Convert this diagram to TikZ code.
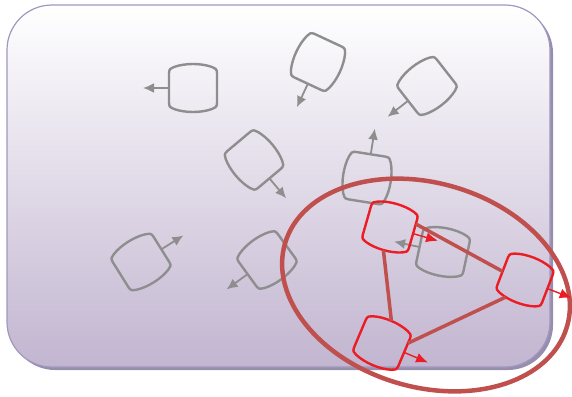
\documentclass[tikz,border=0pt]{standalone}
\usetikzlibrary{arrows.meta}

\definecolor{cellgray}{RGB}{142,142,142}
\definecolor{cellred}{RGB}{236,28,36}
\definecolor{ringred}{RGB}{192,80,77}
\definecolor{boxmid}{RGB}{229,223,234}
\definecolor{boxbot}{RGB}{194,181,208}
\definecolor{boxline}{RGB}{160,152,190}
\definecolor{boxshadow}{RGB}{150,142,172}

\tikzset{
  barrel/.pic={
    \path[#1] (-24,-15) -- (-24,15)
      .. controls (-24,19) and (-22,20) .. (-19,21)
      .. controls (-8,25) and (8,25) .. (19,21)
      .. controls (22,20) and (24,19) .. (24,15) -- (24,-15)
      .. controls (24,-19) and (22,-20) .. (19,-21)
      .. controls (8,-25) and (-8,-25) .. (-19,-21)
      .. controls (-22,-20) and (-24,-19) .. (-24,-15) -- cycle;
    \coordinate (-c) at (0,0);
    \coordinate (-w) at (-24,0);
    \coordinate (-e) at (24,0);
    \coordinate (-n) at (0,-24);
    \coordinate (-s) at (0,24);
    \coordinate (-ws) at (-24,10);
    \coordinate (-ne) at (12,-23);
    \coordinate (-t) at (-50,0);
  }
}

\begin{document}
\begin{tikzpicture}[x=1pt,y=-1pt,
  grayedge/.style={draw=cellgray,line width=2.4pt},
  rededge/.style={draw=cellred,line width=2.4pt},
  grayarrow/.style={cellgray,line width=1.8pt,-{Latex[length=11pt,width=10pt]}},
  redarrow/.style={cellred,line width=1.4pt,-{Latex[length=12pt,width=10pt]}},
  link/.style={ringred,line width=3.5pt},
  ring/.style={ringred,line width=4.5pt}]
\useasboundingbox (0,0) rectangle (572,396);

% Background panel
\fill[boxshadow,rounded corners=45pt] (10,8) rectangle (553,370);
\shade[top color=white,middle color=boxmid,bottom color=boxbot,rounded corners=45pt]
  (7,5) rectangle (550,367);
\draw[boxline,line width=1.2pt,rounded corners=45pt] (7,5) rectangle (550,367);

% Gray cells
\pic (g1) at (193,88) {barrel=grayedge};
\pic[rotate=65] (g2) at (318,62) {barrel=grayedge};
\pic[rotate=38] (g3) at (427,86) {barrel=grayedge};
\pic[rotate=130] (g4) at (254,160) {barrel=grayedge};
\pic[rotate=-99] (g5) at (367,178) {barrel=grayedge};
\pic[rotate=212] (g6) at (141,262) {barrel=grayedge};
\pic[rotate=36] (g7) at (267,260) {barrel=grayedge};
\pic[rotate=-12] (g8) at (443,252) {barrel=grayedge};

\foreach \g in {g1,g2,g3,g4,g5,g6,g7,g8}
  \draw[grayarrow] (\g-w) -- (\g-t);

% Cluster ring
\draw[ring,rotate around={-16.5:(426,285)}] (426,285) ellipse [x radius=147, y radius=102];

% Red cells and links
\pic[rotate=164] (r1) at (390,227) {barrel=rededge};
\pic[rotate=159] (r2) at (525,280) {barrel=rededge};
\pic[rotate=157] (r3) at (382,343) {barrel=rededge};

\draw[link] (r1-ws) -- (r2-e);
\draw[link] (r1-n) -- (r3-s);
\draw[link] (r3-ws) -- (r2-ne);

\foreach \r in {r1,r2,r3}
  \draw[redarrow] (\r-w) -- (\r-t);
\end{tikzpicture}
\end{document}
